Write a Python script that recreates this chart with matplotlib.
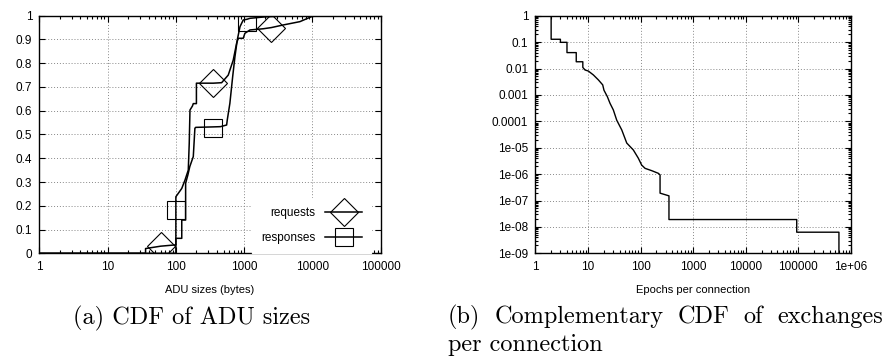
import numpy as np
import matplotlib
matplotlib.use("Agg")
import matplotlib.pyplot as plt
from matplotlib.lines import Line2D
from matplotlib.ticker import LogLocator, FuncFormatter, MultipleLocator, NullFormatter

plt.rcParams['font.family'] = ['Liberation Sans', 'DejaVu Sans']

# (a) CDF of ADU sizes
req_x = [1, 36, 36, 60, 95, 100, 100, 122, 136, 152, 157, 161, 175, 180, 200, 200,
         353, 468, 585, 692, 776, 820, 970, 1026, 1217, 1900, 2500, 3730, 6560, 9700,
         12000, 100000]
req_y = [0, 0, 0.02, 0.03, 0.035, 0.035, 0.238, 0.273, 0.308, 0.35, 0.463, 0.603,
         0.62, 0.63, 0.63, 0.716, 0.716, 0.718, 0.75, 0.813, 0.884, 0.905, 0.905,
         0.926, 0.94, 0.945, 0.95, 0.961, 0.975, 0.996, 1.0, 1.0]
resp_x = [1, 100, 100, 122, 122, 139, 139, 150, 160, 180, 190, 195, 353, 450, 554,
          566, 618, 679, 733, 793, 870, 970, 1100, 1217, 2000, 5000, 100000]
resp_y = [0, 0, 0.063, 0.063, 0.14, 0.14, 0.295, 0.33, 0.365, 0.407, 0.526, 0.53,
          0.532, 0.533, 0.54, 0.561, 0.631, 0.743, 0.827, 0.898, 0.954, 0.982, 0.985,
          0.989, 0.995, 1.0, 1.0]
req_mark_x = [60, 353, 2500]
req_mark_y = [0.03, 0.716, 0.95]
resp_mark_x = [102, 353, 1100]
resp_mark_y = [0.182, 0.529, 0.975]

# (b) complementary CDF of epochs per connection
ep_x = [2, 2, 3, 3, 4, 4, 6, 6, 8, 8, 8.8, 10.2, 12.7, 15.8, 19.1, 20.2, 23.4, 26.3,
        30.4, 35.3, 44, 54.7, 73, 90.8, 105, 122, 163, 218, 235, 235, 347, 347,
        93000, 93000, 590000, 590000]
ep_y = [1, 0.128, 0.128, 0.098, 0.098, 0.04, 0.04, 0.018, 0.018, 0.011, 0.0088,
        0.008, 0.0057, 0.0037, 0.0024, 0.0015, 8.6e-4, 4.8e-4, 2.7e-4, 1.1e-4,
        4.7e-5, 1.5e-5, 8.2e-6, 4e-6, 2.2e-6, 1.65e-6, 1.35e-6, 1.07e-6, 9.3e-7,
        1.9e-7, 1.5e-7, 1.9e-8, 1.9e-8, 6.3e-9, 6.3e-9, 1e-10]

W, H = 884, 358
fig = plt.figure(figsize=(W / 100, H / 100), dpi=100)


def px_axes(x0, x1, y0, y1):
    return fig.add_axes([x0 / W, 1 - y1 / H, (x1 - x0) / W, (y1 - y0) / H])


def style_axes(ax):
    for s in ax.spines.values():
        s.set_linewidth(1.0)
    ax.tick_params(which='both', direction='in', top=True, right=True,
                   labelsize=8.5, width=0.8)
    ax.tick_params(which='major', length=4.5)
    ax.tick_params(which='minor', length=2.5)
    ax.tick_params(axis='x', which='major', pad=5.5)
    ax.tick_params(axis='y', which='major', pad=5)
    ax.grid(True, which='major', color='#888888', linestyle=(0, (1, 2)), linewidth=0.7)
    ax.set_axisbelow(True)


gfmt = FuncFormatter(lambda v, _: '%g' % v)

# left panel
ax1 = px_axes(39.3, 380.7, 15.7, 253.3)
style_axes(ax1)
ax1.plot(req_x, req_y, color='black', lw=1.1)
ax1.plot(resp_x, resp_y, color='black', lw=1.1)
ax1.plot(req_mark_x, req_mark_y, ls='none', marker='D', ms=14.5, mfc='none',
         mec='black', mew=0.8)
ax1.plot(resp_mark_x, resp_mark_y, ls='none', marker='s', ms=13.5, mfc='none',
         mec='black', mew=0.8)
ax1.set_xscale('log')
ax1.set_xlim(1, 100000)
ax1.set_ylim(0, 1)
ax1.yaxis.set_major_locator(MultipleLocator(0.1))
ax1.yaxis.set_major_formatter(gfmt)
ax1.xaxis.set_major_locator(LogLocator(base=10, numticks=20))
ax1.xaxis.set_minor_locator(LogLocator(base=10, subs=np.arange(2, 10), numticks=100))
ax1.xaxis.set_major_formatter(FuncFormatter(lambda v, _: '%d' % round(v)))
ax1.xaxis.set_minor_formatter(NullFormatter())
ax1.set_xlabel('ADU sizes (bytes)', fontsize=8, labelpad=8.5)

handles = [
    Line2D([], [], color='black', lw=1.1, marker='D', ms=14.5, mfc='none', mec='black', mew=0.8),
    Line2D([], [], color='black', lw=1.1, marker='s', ms=13.5, mfc='none', mec='black', mew=0.8),
]
leg = ax1.legend(handles, ['requests', 'responses'], loc='lower right',
                 bbox_to_anchor=(0.971, 0.0), borderaxespad=0, markerfirst=False,
                 fontsize=8.5, handlelength=3.1, handletextpad=0.85, labelspacing=1.15,
                 borderpad=0.75, numpoints=1, frameon=True, fancybox=False,
                 facecolor='white', edgecolor='white', framealpha=1)

# right panel
ax2 = px_axes(535.3, 851, 15.7, 253.3)
style_axes(ax2)
ax2.plot(ep_x, ep_y, color='black', lw=1.0)
ax2.set_xscale('log')
ax2.set_yscale('log')
ax2.set_xlim(1, 1e6)
ax2.set_ylim(1e-9, 1)
ax2.xaxis.set_major_locator(LogLocator(base=10, numticks=20))
ax2.xaxis.set_minor_locator(LogLocator(base=10, subs=np.arange(2, 10), numticks=100))
ax2.yaxis.set_major_locator(LogLocator(base=10, numticks=20))
ax2.yaxis.set_minor_locator(LogLocator(base=10, subs=np.arange(2, 10), numticks=100))
ax2.xaxis.set_major_formatter(gfmt)
ax2.yaxis.set_major_formatter(gfmt)
ax2.xaxis.set_minor_formatter(NullFormatter())
ax2.yaxis.set_minor_formatter(NullFormatter())
ax2.set_xlabel('Epochs per connection', fontsize=8, labelpad=8.5)

# captions (serif, LaTeX-like)
cap = dict(family='cmr10', fontsize=17.5, va='baseline', ha='left')
fig.text(73 / W, 1 - 324 / H, '(a) CDF of ADU sizes', **cap)


def justify(words, x0, x1, y):
    r = fig.canvas.get_renderer()
    items = [fig.text(0, 1 - y / H, w, **cap) for w in words]
    widths = [t.get_window_extent(r).width for t in items]
    gap = (x1 - x0 - sum(widths)) / (len(words) - 1)
    x = x0
    for t, w in zip(items, widths):
        t.set_x(x / W)
        x += w + gap


justify(['(b)', 'Complementary', 'CDF', 'of', 'exchanges'], 448, 883, 323)
fig.text(448 / W, 1 - 351 / H, 'per connection', **cap)

fig.savefig('out.png', dpi=100)
